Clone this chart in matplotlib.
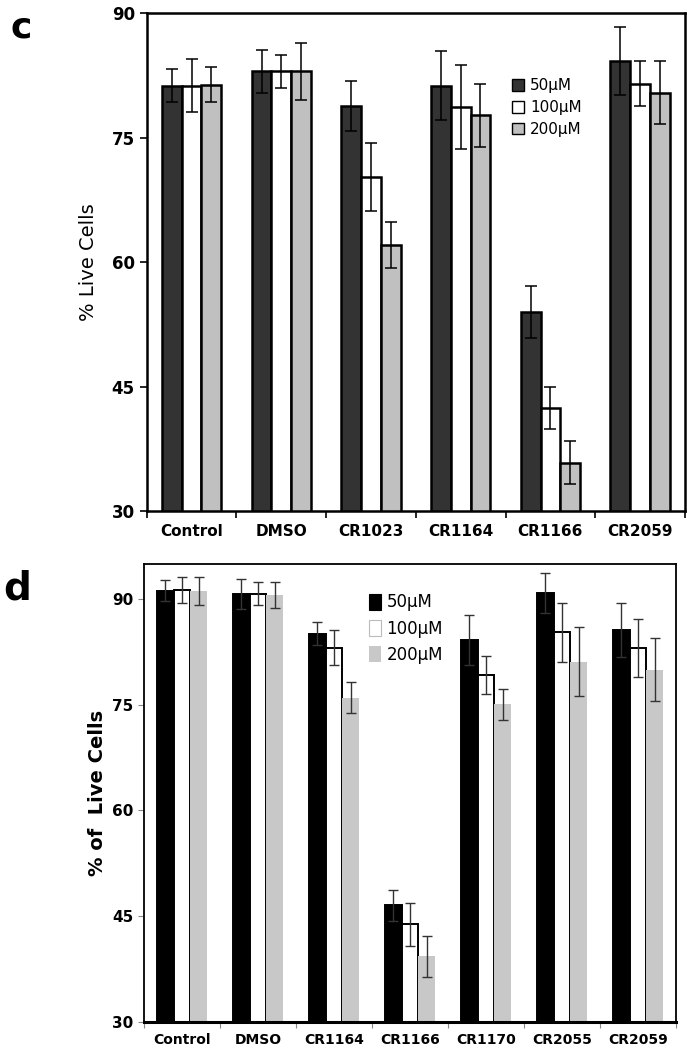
import numpy as np
import matplotlib
matplotlib.use('Agg')
import matplotlib.pyplot as plt
from matplotlib.patches import Patch

# panel c
cats_c = ['Control', 'DMSO', 'CR1023', 'CR1164', 'CR1166', 'CR2059']
c50 = [81.3, 83.0, 78.8, 81.3, 54.0, 84.2]
c100 = [81.3, 83.0, 70.3, 78.7, 42.4, 81.5]
c200 = [81.4, 83.0, 62.1, 77.7, 35.8, 80.4]
c50_err = [2.0, 2.6, 3.0, 4.2, 3.1, 4.1]
c100_err = [3.2, 2.0, 4.1, 5.1, 2.5, 2.7]
c200_err = [2.1, 3.4, 2.8, 3.8, 2.6, 3.8]

# panel d
cats_d = ['Control', 'DMSO', 'CR1164', 'CR1166', 'CR1170', 'CR2055', 'CR2059']
d50 = [91.2, 90.7, 85.1, 46.5, 84.2, 90.9, 85.6]
d100 = [91.3, 90.8, 83.1, 43.8, 79.2, 85.3, 83.1]
d200 = [91.1, 90.6, 76.0, 39.3, 75.1, 81.1, 80.0]
d50_err = [1.5, 2.1, 1.6, 2.2, 3.5, 2.8, 3.8]
d100_err = [1.8, 1.6, 2.5, 3.0, 2.7, 4.2, 4.1]
d200_err = [2.0, 1.9, 2.2, 2.9, 2.2, 4.9, 4.5]

labels = ['50\u00b5M', '100\u00b5M', '200\u00b5M']
narrow = ['Liberation Sans Narrow', 'DejaVu Sans']

fig = plt.figure(figsize=(6.87, 10.5), dpi=100)
w = 0.22

# ---------- c ----------
ax = fig.add_axes([0.2135, 0.5133, 0.7835, 0.474])
x = np.arange(len(cats_c))
cols = ['#333333', 'white', '#c0c0c0']
for k, (v, e) in enumerate([(c50, c50_err), (c100, c100_err), (c200, c200_err)]):
    ax.bar(x + (k - 1) * w, v, w, color=cols[k], edgecolor='black', linewidth=1.8, zorder=2)
    ax.errorbar(x + (k - 1) * w, v, yerr=e, fmt='none', ecolor='black',
                elinewidth=1.1, capsize=4, capthick=1.1, zorder=3)
ax.set_xlim(-0.5, len(cats_c) - 0.5)
ax.set_ylim(30, 90)
ax.set_yticks([30, 45, 60, 75, 90])
ax.set_yticklabels(['30', '45', '60', '75', '90'], fontsize=12, fontweight='bold', family=narrow)
ax.set_xticks(np.arange(len(cats_c) + 1) - 0.5)
ax.set_xticklabels([])
ax.set_xticks(x, minor=True)
ax.set_xticklabels(cats_c, minor=True, fontsize=11, fontweight='bold')
ax.tick_params(axis='x', which='minor', length=0, pad=9)
ax.tick_params(axis='both', which='major', length=5, width=1.2, direction='out')
for s in ax.spines.values():
    s.set_linewidth(1.8)
ax.set_ylabel('% Live Cells', fontsize=14)
ax.yaxis.set_label_coords(-0.09, 0.5)
h = [Patch(facecolor=cols[i], edgecolor='black', linewidth=1.0) for i in range(3)]
ax.legend(h, labels, loc='upper left', bbox_to_anchor=(0.664, 0.885), frameon=False,
          handlelength=0.8, handleheight=0.8, handletextpad=0.4, labelspacing=0.45,
          borderpad=0, prop={'family': narrow, 'size': 11})
fig.text(0.015, 0.99, 'c', fontsize=26, fontweight='bold', va='top')

# ---------- d ----------
ax2 = fig.add_axes([0.2096, 0.027, 0.7744, 0.4359])
x = np.arange(len(cats_d))
cols2 = ['black', 'white', '#c8c8c8']
edges = ['black', 'black', 'none']
for k, (v, e) in enumerate([(d50, d50_err), (d100, d100_err), (d200, d200_err)]):
    ax2.bar(x + (k - 1) * w, v, w, color=cols2[k], edgecolor=edges[k], linewidth=1.4, zorder=2)
    ax2.errorbar(x + (k - 1) * w, v, yerr=e, fmt='none', ecolor='#333333',
                 elinewidth=1.0, capsize=3.5, capthick=1.0, zorder=3)
ax2.set_xlim(-0.5, len(cats_d) - 0.5)
ax2.set_ylim(30, 95)
ax2.set_yticks([30, 45, 60, 75, 90])
ax2.set_yticklabels(['30', '45', '60', '75', '90'], fontsize=11, fontweight='bold')
ax2.set_xticks(np.arange(len(cats_d) + 1) - 0.5)
ax2.set_xticklabels([])
ax2.set_xticks(x, minor=True)
ax2.set_xticklabels(cats_d, minor=True, fontsize=10, fontweight='bold')
ax2.tick_params(axis='x', which='minor', length=0, pad=8)
ax2.tick_params(axis='both', which='major', length=4, width=0.8, direction='out', color='#888888')
for s in ax2.spines.values():
    s.set_linewidth(1.3)
ax2.spines['bottom'].set_linewidth(2.2)
ax2.set_ylabel('% of  Live Cells', fontsize=14, fontweight='bold')
ax2.yaxis.set_label_coords(-0.07, 0.5)
h2 = [Patch(facecolor=cols2[i], edgecolor=('black' if i == 0 else '#bbbbbb' if i == 1 else 'none'),
            linewidth=0.8) for i in range(3)]
ax2.legend(h2, labels, loc='upper left', bbox_to_anchor=(0.407, 0.954), frameon=False,
           handlelength=0.75, handleheight=1.1, handletextpad=0.3, labelspacing=0.5,
           borderpad=0, prop={'size': 12})
fig.text(0.005, 0.458, 'd', fontsize=28, fontweight='bold', va='top')

fig.savefig('out.png', dpi=100)
